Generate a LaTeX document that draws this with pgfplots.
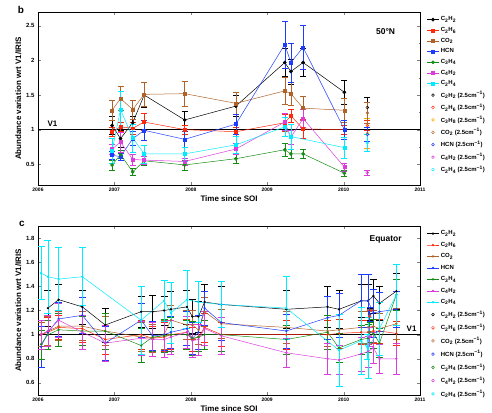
\documentclass[border=0pt]{standalone}
\usepackage{fontspec}
\setmainfont{Liberation Sans}
\usepackage{pgfplots}
\pgfplotsset{compat=1.18}

\definecolor{cbrown}{RGB}{176,98,40}
\definecolor{cred}{RGB}{255,40,10}
\definecolor{cblue}{RGB}{30,60,255}
\definecolor{cgreen}{RGB}{20,140,20}
\definecolor{cmag}{RGB}{220,60,220}
\definecolor{ccyan}{RGB}{0,235,255}
\definecolor{corange}{RGB}{255,170,0}

\newcommand{\wn}{ (2.5cm\textsuperscript{−1})}

\pgfplotsset{
  panel/.style={
    scale only axis, width=382bp,
    xmin=2006, xmax=2011, xtick={2006,2007,2008,2009,2010,2011},
    /pgf/number format/assume math mode=true,
    xticklabel style={font=\bfseries\fontsize{5}{6}\selectfont,/pgf/number format/1000 sep={}},
    yticklabel style={font=\bfseries\fontsize{6}{7}\selectfont},
    label style={font=\bfseries\fontsize{8}{9}\selectfont},
    xlabel={Time since SOI}, ylabel={Abundance variation wrt V1/IRIS},
    xlabel style={yshift=3pt}, ylabel style={yshift=-2pt},
    tick align=inside, major tick length=3bp, minor tick length=1.5bp,
    axis line style={line width=0.8pt},
    legend style={at={(1.018,0.985)}, anchor=north west, draw=none, fill=none,
      font=\bfseries\fontsize{6}{6.5}\selectfont, row sep=1pt, inner sep=0pt},
    legend cell align=left,
    legend image code/.code={\draw[mark repeat=2,mark phase=2,##1] plot coordinates {(0cm,0cm)(0.2cm,0cm)(0.4cm,0cm)};},
  },
  eb/.style n args={2}{
    /pgfplots/error bars/y dir=both, /pgfplots/error bars/y explicit,
    /pgfplots/error bars/error bar style={line width=0.5pt, color=#1},
    /pgfplots/error bars/error mark options={rotate=90, mark size=#2, line width=0.5pt, color=#1}},
  ser/.style={color=#1, mark=square*, mark size=1.5pt, line width=0.5pt, eb={#1}{3pt}},
  serc/.style={color=#1, mark=*, mark size=1.6pt, line width=0.5pt, eb={#1}{3pt}},
  bser/.style={color=#1, mark=*, mark size=0.9pt, line width=0.5pt, eb={#1}{3.5pt}},
  oser/.style={color=#1, only marks, mark=o, mark size=1.4pt, line width=0.5pt, eb={#1}{3pt}},
}

\begin{document}
\begin{tikzpicture}
\useasboundingbox (0,0) rectangle (492bp,413bp);

% ---------- panel b : 50N ----------
\begin{axis}[panel, at={(38bp,228bp)}, anchor=south west, height=173bp,
  ymin=0.2, ymax=2.7, ytick={0.5,1,1.5,2,2.5}, minor y tick num=1]
\addplot[black, line width=0.9pt, forget plot] coordinates {(2006,1) (2011,1)};

\addplot[serc=black] table[x index=0, y index=1, y error index=2] {
2006.97 1.06 0.13
2007.08 0.87 0.12
2007.24 1.10 0.10
2007.39 1.50 0.18
2007.92 1.14 0.13
2008.59 1.34 0.15
2009.23 1.97 0.20
2009.31 1.84 0.18
2009.47 1.97 0.20
2010.01 1.54 0.18
};
\addlegendentry{C\textsubscript{2}H\textsubscript{2}}
\addplot[ser=cred] table[x index=0, y index=1, y error index=2] {
2006.97 0.97 0.06
2007.08 1.04 0.07
2007.24 1.02 0.08
2007.39 1.11 0.12
2007.92 1.00 0.07
2008.59 0.97 0.07
2009.23 1.10 0.12
2009.31 1.20 0.10
2009.47 1.01 0.14
2010.01 1.00 0.06
};
\addlegendentry{C\textsubscript{2}H\textsubscript{6}}
\addplot[ser=cbrown] table[x index=0, y index=1, y error index=2] {
2006.97 1.28 0.15
2007.08 1.45 0.17
2007.24 1.29 0.14
2007.39 1.51 0.17
2007.92 1.52 0.18
2008.59 1.38 0.16
2009.23 1.56 0.20
2009.31 1.52 0.17
2009.47 1.31 0.17
2010.01 1.28 0.18
};
\addlegendentry{CO\textsubscript{2}}
\addplot[ser=cblue] table[x index=0, y index=1, y error index=2] {
2006.97 0.63 0.06
2007.08 0.61 0.05
2007.24 0.87 0.10
2007.39 0.99 0.14
2007.92 0.86 0.12
2008.59 1.08 0.14
2009.23 2.23 0.34
2009.31 1.97 0.28
2009.47 2.19 0.32
2010.01 1.00 0.14
};
\addlegendentry{HCN}
\addplot[serc=cgreen] table[x index=0, y index=1, y error index=2] {
2006.97 0.49 0.07
2007.08 0.64 0.06
2007.24 0.39 0.05
2007.39 0.55 0.07
2007.92 0.49 0.07
2008.59 0.58 0.07
2009.23 0.71 0.09
2009.31 0.65 0.07
2009.47 0.65 0.07
2010.01 0.37 0.05
};
\addlegendentry{C\textsubscript{3}H\textsubscript{4}}
\addplot[ser=cmag] table[x index=0, y index=1, y error index=2] {
2006.97 0.72 0.07
2007.08 0.82 0.14
2007.24 0.57 0.08
2007.39 0.56 0.06
2007.92 0.54 0.05
2008.59 0.72 0.08
2009.23 1.11 0.12
2009.31 0.89 0.10
2009.47 1.16 0.13
2010.01 0.46 0.06
};
\addlegendentry{C\textsubscript{4}H\textsubscript{2}}
\addplot[ser=ccyan] table[x index=0, y index=1, y error index=2] {
2006.97 0.70 0.18
2007.08 1.29 0.26
2007.24 0.88 0.20
2007.39 0.65 0.13
2007.92 0.65 0.10
2008.59 0.78 0.12
2009.23 1.04 0.14
2009.31 0.90 0.18
2010.01 0.74 0.15
};
\addlegendentry{C\textsubscript{2}H\textsubscript{4}}

\addplot[oser=black] table[x index=0, y index=1, y error index=2] {
2010.31 1.32 0.15
};
\addlegendentry{C\textsubscript{2}H\textsubscript{2}\wn}
\addplot[oser=cred] table[x index=0, y index=1, y error index=2] {
2010.31 1.06 0.07
};
\addlegendentry{C\textsubscript{2}H\textsubscript{6}\wn}
\addplot[oser=corange] table[x index=0, y index=1, y error index=2] {
2010.31 0.95 0.22
};
\addlegendentry{C\textsubscript{3}H\textsubscript{8}\wn}
\addplot[oser=cbrown] table[x index=0, y index=1, y error index=2] {
2010.31 1.24 0.15
};
\addlegendentry{CO\textsubscript{2}\wn}
\addplot[oser=cblue] table[x index=0, y index=1, y error index=2] {
2010.31 0.93 0.10
};
\addlegendentry{HCN\wn}
\addplot[oser=cmag] table[x index=0, y index=1, y error index=2] {
2010.31 0.38 0.04
};
\addlegendentry{C\textsubscript{4}H\textsubscript{2}\wn}
\addplot[oser=ccyan] table[x index=0, y index=1, y error index=2] {
2010.31 0.81 0.12
};
\addlegendentry{C\textsubscript{2}H\textsubscript{4}\wn}

\node[font=\bfseries\fontsize{8}{9}\selectfont, anchor=south west] at (axis cs:2006.08,1.0) {V1};
\node[font=\bfseries\fontsize{8.5}{9}\selectfont] at (axis cs:2010.55,2.41) {50°N};
\end{axis}

% ---------- panel c : Equator ----------
\begin{axis}[panel, at={(38bp,18bp)}, anchor=south west, height=169bp,
  ymin=0.5, ymax=1.9, ytick={0.6,0.8,1,1.2,1.4,1.6,1.8},
  legend style={row sep=1.8pt}]
\addplot[black, line width=0.9pt, forget plot] coordinates {(2006,1) (2011,1)};

\addplot[bser=black] table[x index=0, y index=1, y error index=2] {
2006.13 1.22 0.15
2006.27 1.29 0.13
2006.58 1.23 0.14
2006.88 1.08 0.14
2007.35 1.19 0.13
2007.50 1.19 0.14
2007.65 1.20 0.12
2007.74 1.21 0.15
2007.95 1.23 0.14
2008.02 1.15 0.14
2008.10 1.15 0.13
2008.18 1.27 0.15
2008.40 1.25 0.15
2009.25 1.21 0.16
2009.79 1.23 0.17
2009.94 1.21 0.16
2010.23 1.28 0.14
2010.32 1.28 0.14
2010.39 1.32 0.14
2010.47 1.26 0.14
2010.69 1.36 0.15
};
\addlegendentry{C\textsubscript{2}H\textsubscript{2}}
\addplot[bser=cred] table[x index=0, y index=1, y error index=2] {
2006.04 1.00 0.10
2006.13 1.02 0.12
2006.27 1.06 0.10
2006.58 1.05 0.11
2006.88 0.96 0.12
2007.35 1.00 0.12
2007.50 0.97 0.10
2007.65 0.98 0.12
2007.74 1.00 0.12
2007.95 1.02 0.11
2008.02 0.96 0.10
2008.10 0.98 0.12
2008.18 1.06 0.12
2008.40 1.00 0.10
2009.25 1.00 0.12
2009.79 1.00 0.12
2009.94 1.01 0.12
2010.23 1.02 0.10
2010.32 1.02 0.10
2010.39 1.03 0.10
2010.47 1.03 0.10
2010.69 1.01 0.10
};
\addlegendentry{C\textsubscript{2}H\textsubscript{6}}
\addplot[bser=cbrown] table[x index=0, y index=1, y error index=2] {
2006.04 1.00 0.10
2006.13 1.03 0.12
2006.27 1.07 0.12
2006.58 1.07 0.12
2006.88 1.03 0.12
2007.35 0.98 0.12
2007.50 0.97 0.12
2007.65 1.00 0.12
2007.74 1.12 0.12
2007.95 1.08 0.12
2008.02 1.08 0.12
2008.10 1.04 0.12
2008.18 1.19 0.12
2008.40 1.09 0.12
2009.25 1.06 0.13
2009.79 1.03 0.13
2009.94 1.04 0.13
2010.23 1.06 0.13
2010.32 1.06 0.13
2010.39 1.07 0.13
2010.47 1.05 0.13
2010.69 1.09 0.13
};
\addlegendentry{CO\textsubscript{2}}
\addplot[bser=cblue] table[x index=0, y index=1, y error index=2] {
2006.04 0.90 0.17
2006.13 1.02 0.14
2006.27 1.13 0.14
2006.58 1.16 0.15
2006.88 0.93 0.14
2007.35 1.12 0.14
2007.50 0.99 0.12
2007.65 1.00 0.13
2007.74 1.02 0.13
2007.95 1.05 0.14
2008.02 0.97 0.13
2008.10 1.02 0.14
2008.18 1.22 0.14
2008.40 1.10 0.15
2009.25 1.03 0.14
2009.79 1.14 0.18
2009.94 1.16 0.18
2010.23 1.28 0.22
2010.32 1.28 0.22
2010.39 1.18 0.20
2010.47 1.19 0.16
2010.69 1.21 0.15
};
\addlegendentry{HCN}
\addplot[bser=cgreen] table[x index=0, y index=1, y error index=2] {
2006.04 0.92 0.12
2006.13 1.00 0.12
2006.27 1.04 0.14
2006.58 1.03 0.12
2006.88 1.03 0.15
2007.35 0.91 0.14
2007.50 0.98 0.12
2007.65 0.99 0.14
2007.74 1.00 0.14
2007.95 1.00 0.12
2008.02 0.97 0.14
2008.10 0.98 0.12
2008.18 1.00 0.12
2008.40 1.00 0.14
2009.25 0.96 0.12
2009.79 1.02 0.14
2009.94 0.89 0.12
2010.23 0.96 0.12
2010.32 0.97 0.12
2010.39 1.01 0.12
2010.47 0.93 0.12
2010.69 1.33 0.13
};
\addlegendentry{C\textsubscript{3}H\textsubscript{4}}
\addplot[bser=cmag] table[x index=0, y index=1, y error index=2] {
2006.04 1.00 0.12
2006.13 1.03 0.13
2006.27 1.12 0.14
2006.58 1.02 0.14
2006.88 0.93 0.15
2007.35 0.97 0.14
2007.50 0.96 0.14
2007.65 0.96 0.15
2007.74 0.98 0.14
2007.95 1.02 0.13
2008.02 0.95 0.14
2008.10 0.96 0.13
2008.18 1.05 0.14
2008.40 0.99 0.15
2009.25 0.85 0.12
2009.79 0.80 0.13
2009.94 0.79 0.12
2010.23 0.84 0.14
2010.32 0.86 0.13
2010.39 0.89 0.13
2010.47 0.80 0.12
2010.69 0.80 0.13
};
\addlegendentry{C\textsubscript{4}H\textsubscript{2}}
\addplot[bser=ccyan] table[x index=0, y index=1, y error index=2] {
2006.04 1.51 0.22
2006.13 1.48 0.30
2006.27 1.46 0.26
2006.58 1.48 0.24
2007.35 1.12 0.28
2007.65 1.28 0.17
2007.74 1.18 0.25
2007.95 1.29 0.24
2008.10 1.27 0.17
2008.40 1.25 0.19
2009.25 1.22 0.26
2009.94 0.87 0.30
2010.23 0.95 0.28
2010.32 0.89 0.25
2010.47 1.05 0.22
2010.69 1.33 0.25
};
\addlegendentry{C\textsubscript{2}H\textsubscript{4}}

\addplot[oser=black] table[x index=0, y index=1, y error index=2] {
2010.34 1.17 0.05
};
\addlegendentry{C\textsubscript{2}H\textsubscript{2}\wn}
\addplot[oser=cred] table[x index=0, y index=1, y error index=2] {
2010.34 1.15 0.05
};
\addlegendentry{C\textsubscript{2}H\textsubscript{6}\wn}
\addplot[oser=cbrown] table[x index=0, y index=1, y error index=2] {
2010.34 1.16 0.05
};
\addlegendentry{CO\textsubscript{2}\wn}
\addplot[oser=cblue] table[x index=0, y index=1, y error index=2] {
2010.34 1.17 0.06
};
\addlegendentry{HCN\wn}
\addplot[oser=cgreen] table[x index=0, y index=1, y error index=2] {
2010.34 1.02 0.08
};
\addlegendentry{C\textsubscript{3}H\textsubscript{4}\wn}
\addplot[oser=cmag] table[x index=0, y index=1, y error index=2] {
2010.34 0.98 0.08
};
\addlegendentry{C\textsubscript{4}H\textsubscript{2}\wn}
\addplot[oser=ccyan] table[x index=0, y index=1, y error index=2] {
2010.31 0.90 0.10
};
\addlegendentry{C\textsubscript{2}H\textsubscript{4}\wn}

\node[font=\bfseries\fontsize{8}{9}\selectfont, anchor=south east] at (axis cs:2011,1.0) {V1};
\node[font=\bfseries\fontsize{8.5}{9}\selectfont] at (axis cs:2010.55,1.79) {Equator};
\end{axis}

\node[font=\bfseries\fontsize{10}{11}\selectfont] at (21bp,403bp) {b};
\node[font=\bfseries\fontsize{10}{11}\selectfont] at (22bp,189bp) {c};
\end{tikzpicture}
\end{document}
